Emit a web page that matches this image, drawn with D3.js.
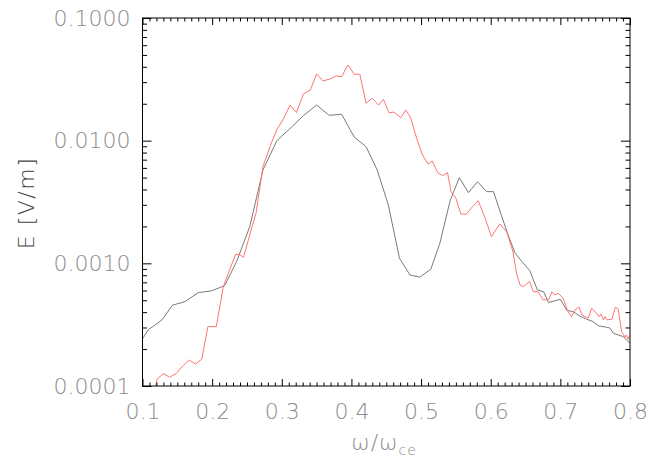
<!DOCTYPE html>
<html>
<head>
<meta charset="utf-8">
<script src="https://cdn.jsdelivr.net/npm/d3@7"></script>
<style>
  html, body { margin: 0; padding: 0; background: #fff; }
  svg { display: block; }
  .lbl { font-family: "DejaVu Sans", sans-serif; font-weight: 200; fill: #8c8c8c; }
</style>
</head>
<body>
<svg id="chart" width="647" height="458"></svg>
<script>
// Spectrum of the wave field versus normalised frequency
const xTicks = [0.1, 0.2, 0.3, 0.4, 0.5, 0.6, 0.7, 0.8];
const yTicks = [1e-4, 1e-3, 1e-2, 1e-1];
const yTickLabels = ["0.0001", "0.0010", "0.0100", "0.1000"];

// gray curve
const grayX = [0.100, 0.108, 0.128, 0.143, 0.161, 0.180, 0.199, 0.218, 0.235, 0.254,
  0.273, 0.293, 0.312, 0.331, 0.350, 0.368, 0.386, 0.404, 0.421, 0.437,
  0.453, 0.469, 0.484, 0.498, 0.514, 0.527, 0.542, 0.555, 0.568, 0.581,
  0.594, 0.604, 0.616, 0.625, 0.635, 0.645, 0.656, 0.667, 0.676, 0.683,
  0.700, 0.709, 0.719, 0.728, 0.738, 0.747, 0.755, 0.767, 0.771, 0.776,
  0.783, 0.790, 0.795, 0.800];
const grayE = [2.42e-4, 2.86e-4, 3.46e-4, 4.56e-4, 4.87e-4, 5.77e-4, 5.96e-4, 6.58e-4, 1.03e-3, 1.99e-3,
  5.77e-3, 1.00e-2, 1.26e-2, 1.60e-2, 1.95e-2, 1.61e-2, 1.64e-2, 1.07e-2, 8.93e-3, 5.77e-3,
  2.99e-3, 1.10e-3, 8.04e-4, 7.71e-4, 8.95e-4, 1.46e-3, 3.29e-3, 4.99e-3, 3.77e-3, 4.63e-3,
  3.84e-3, 3.84e-3, 2.40e-3, 1.70e-3, 1.21e-3, 1.03e-3, 8.73e-4, 6.07e-4, 5.87e-4, 4.79e-4,
  5.09e-4, 4.15e-4, 4.02e-4, 3.71e-4, 3.50e-4, 3.35e-4, 3.09e-4, 3.01e-4, 2.97e-4, 2.69e-4,
  2.61e-4, 2.53e-4, 2.38e-4, 2.23e-4];

// red curve
const redX = [0.119, 0.121, 0.130, 0.139, 0.148, 0.158, 0.167, 0.176, 0.185, 0.194,
  0.206, 0.216, 0.225, 0.234, 0.240, 0.245, 0.256, 0.263, 0.273, 0.283,
  0.293, 0.302, 0.312, 0.321, 0.331, 0.341, 0.350, 0.359, 0.369, 0.378,
  0.386, 0.395, 0.404, 0.412, 0.421, 0.430, 0.439, 0.446, 0.454, 0.461,
  0.471, 0.478, 0.485, 0.494, 0.502, 0.510, 0.516, 0.524, 0.531, 0.538,
  0.543, 0.550, 0.557, 0.565, 0.574, 0.582, 0.592, 0.601, 0.613, 0.623,
  0.632, 0.637, 0.642, 0.647, 0.656, 0.661, 0.668, 0.675, 0.683, 0.688,
  0.692, 0.697, 0.704, 0.711, 0.716, 0.721, 0.727, 0.731, 0.737, 0.740,
  0.745, 0.751, 0.756, 0.758, 0.762, 0.764, 0.767, 0.774, 0.779, 0.783,
  0.788, 0.793, 0.795, 0.797, 0.800];
const redE = [1.00e-4, 1.14e-4, 1.26e-4, 1.18e-4, 1.26e-4, 1.46e-4, 1.63e-4, 1.51e-4, 1.65e-4, 3.05e-4,
  3.05e-4, 6.46e-4, 8.83e-4, 1.19e-3, 1.17e-3, 1.12e-3, 1.87e-3, 2.56e-3, 6.14e-3, 8.93e-3,
  1.24e-2, 1.49e-2, 1.95e-2, 1.69e-2, 2.40e-2, 2.59e-2, 3.50e-2, 3.07e-2, 3.18e-2, 3.37e-2,
  3.33e-2, 4.14e-2, 3.48e-2, 3.48e-2, 2.02e-2, 2.22e-2, 1.95e-2, 2.17e-2, 1.69e-2, 1.71e-2,
  1.54e-2, 1.78e-2, 1.54e-2, 1.03e-2, 7.64e-3, 6.43e-3, 6.84e-3, 5.48e-3, 5.19e-3, 5.48e-3,
  3.84e-3, 3.40e-3, 2.53e-3, 2.52e-3, 2.90e-3, 3.24e-3, 2.33e-3, 1.65e-3, 2.09e-3, 1.81e-3,
  1.24e-3, 8.30e-4, 6.67e-4, 6.46e-4, 7.10e-4, 5.87e-4, 5.87e-4, 5.04e-4, 5.04e-4, 5.87e-4,
  5.52e-4, 5.70e-4, 5.20e-4, 4.04e-4, 3.68e-4, 4.17e-4, 4.39e-4, 3.79e-4, 3.64e-4, 3.58e-4,
  4.31e-4, 3.96e-4, 3.68e-4, 3.87e-4, 3.46e-4, 3.68e-4, 3.46e-4, 3.50e-4, 4.39e-4, 4.23e-4,
  2.77e-4, 2.50e-4, 2.61e-4, 2.40e-4, 2.61e-4];

const svg = d3.select("#chart");
const L = 142.5, R = 630, T = 18, B = 386;

const x = d3.scaleLinear().domain([0.1, 0.8]).range([L, R]);
const y = d3.scaleLog().domain([1e-4, 1e-1]).range([B, T]);

// minor tick positions
const xMinor = d3.range(10, 81).map(d => d / 100).filter(v => Math.round(v * 100) % 10 !== 0);
const yMinor = [];
[1e-4, 1e-3, 1e-2].forEach(dec => { for (let k = 2; k <= 9; k++) yMinor.push(dec * k); });

svg.append("defs").append("clipPath").attr("id", "plotclip")
  .append("rect").attr("x", L).attr("y", T).attr("width", R - L).attr("height", B - T);

// curves
const line = (xs, es) => d3.line().x((d, i) => x(xs[i])).y((d, i) => y(es[i]))(xs);
const curves = svg.append("g").attr("clip-path", "url(#plotclip)");
curves.append("path").attr("d", line(grayX, grayE))
  .attr("fill", "none").attr("stroke", "#7a7a7a").attr("stroke-width", 1);
curves.append("path").attr("d", line(redX, redE))
  .attr("fill", "none").attr("stroke", "#ff7474").attr("stroke-width", 1);

function styleAxis(g) {
  g.select(".domain").remove();
  g.selectAll(".tick line").attr("stroke", "#000").attr("stroke-width", 1);
  g.selectAll("text").attr("class", "lbl").attr("font-size", 22)
    .style("font-family", "'DejaVu Sans', sans-serif").style("font-weight", 200).attr("fill", "#8c8c8c");
}

// left axis with labels
const yLabel = d => yTickLabels[yTicks.indexOf(d)];
svg.append("g").attr("transform", `translate(${L},0)`)
  .call(d3.axisLeft(y).tickValues(yTicks).tickSize(-9).tickPadding(12).tickFormat(yLabel))
  .call(styleAxis);
svg.append("g").attr("transform", `translate(${L},0)`)
  .call(d3.axisLeft(y).tickValues(yMinor).tickSize(-4.5).tickFormat(""))
  .call(styleAxis);
// right axis
svg.append("g").attr("transform", `translate(${R},0)`)
  .call(d3.axisRight(y).tickValues(yTicks).tickSize(-9).tickFormat(""))
  .call(styleAxis);
svg.append("g").attr("transform", `translate(${R},0)`)
  .call(d3.axisRight(y).tickValues(yMinor).tickSize(-4.5).tickFormat(""))
  .call(styleAxis);
// bottom axis with labels
svg.append("g").attr("transform", `translate(0,${B})`)
  .call(d3.axisBottom(x).tickValues(xTicks).tickSize(-7).tickPadding(17).tickFormat(d3.format(".1f")))
  .call(styleAxis);
svg.append("g").attr("transform", `translate(0,${B})`)
  .call(d3.axisBottom(x).tickValues(xMinor).tickSize(-3.5).tickFormat(""))
  .call(styleAxis);
// top axis
svg.append("g").attr("transform", `translate(0,${T})`)
  .call(d3.axisTop(x).tickValues(xTicks).tickSize(-7).tickFormat(""))
  .call(styleAxis);
svg.append("g").attr("transform", `translate(0,${T})`)
  .call(d3.axisTop(x).tickValues(xMinor).tickSize(-3.5).tickFormat(""))
  .call(styleAxis);

// frame
svg.append("rect").attr("x", L).attr("y", T).attr("width", R - L).attr("height", B - T)
  .attr("fill", "none").attr("stroke", "#000").attr("stroke-width", 1);

// axis titles
const xt = svg.append("text").attr("x", 384).attr("y", 450).attr("text-anchor", "middle")
  .attr("class", "lbl").attr("font-size", 22).style("letter-spacing", "1px");
xt.append("tspan").text("ω/ω");
xt.append("tspan").attr("font-size", 14).attr("dy", 5).text("ce");

svg.append("text").attr("transform", "translate(34,203) rotate(-90)")
  .attr("text-anchor", "middle").attr("class", "lbl").attr("font-size", 22)
  .style("letter-spacing", "1.5px").style("fill", "#444").text("E [V/m]");
</script>
</body>
</html>
